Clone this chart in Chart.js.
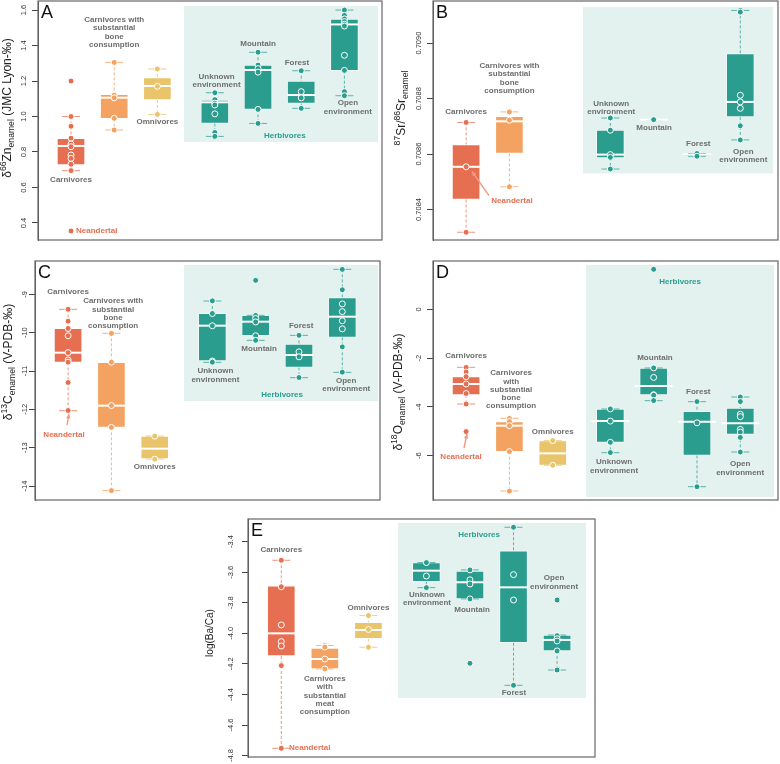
<!DOCTYPE html>
<html>
<head>
<meta charset="utf-8">
<script src="https://cdn.jsdelivr.net/npm/chart.js@4.4.1/dist/chart.umd.min.js"></script>
<style>
  body { margin: 0; background: #fff; width: 780px; height: 764px; position: relative; overflow: hidden; }
  canvas { position: absolute; }
</style>
</head>
<body>
<canvas id="cA" width="390" height="250" style="left:0;top:0"></canvas>
<canvas id="cB" width="390" height="250" style="left:390px;top:0"></canvas>
<canvas id="cC" width="390" height="252" style="left:0;top:250px"></canvas>
<canvas id="cD" width="390" height="252" style="left:390px;top:250px"></canvas>
<canvas id="cE" width="410" height="274" style="left:190px;top:490px"></canvas>
<script>
// groups, same order in every panel
const groups = ['Carnivores', 'Carnivores with substantial bone consumption', 'Omnivores',
  'Unknown environment', 'Mountain', 'Forest', 'Open environment'];
const groupPos = [1, 2, 3, 4.33, 5.33, 6.33, 7.33];
const groupColors = ['#e76f51', '#f4a261', '#e9c46a', '#2a9d8f', '#2a9d8f', '#2a9d8f', '#2a9d8f'];
const whiskerColors = ['rgba(231,111,81,0.75)', 'rgba(244,162,97,0.8)', 'rgba(233,196,106,0.8)',
  'rgba(42,157,143,0.75)', 'rgba(42,157,143,0.75)', 'rgba(42,157,143,0.75)', 'rgba(42,157,143,0.75)'];

// A: d66Zn
const znQ1  = [0.727, 0.988, 1.093, 0.961, 1.04, 1.074, 1.258];
const znMed = [0.834, 1.106, 1.172, 1.08, 1.262, 1.121, 1.519];
const znQ3  = [0.877, 1.125, 1.219, 1.093, 1.29, 1.2, 1.549];
const znLo  = [0.695, 0.924, 1.012, 0.888, 0.961, 1.046, 1.117];
const znHi  = [1.0, 1.305, 1.268, 1.134, 1.362, 1.258, 1.6];
const znPts = [
  [1.2, 1.0, 0.945, 0.878, 0.845, 0.83, 0.783, 0.764, 0.731, 0.695, 0.355],
  [1.305, 1.12, 1.105, 0.99, 0.924],
  [1.268, 1.17, 1.012],
  [1.134, 1.095, 1.075, 1.065, 1.015, 0.91, 0.888],
  [1.362, 1.29, 1.27, 1.25, 1.04, 0.961],
  [1.258, 1.14, 1.105, 1.046],
  [1.6, 1.57, 1.55, 1.535, 1.52, 1.51, 1.345, 1.26, 1.14, 1.117]
];
const znTicks = [0.4, 0.6, 0.8, 1.0, 1.2, 1.4, 1.6];

// B: 87Sr/86Sr (no omnivores)
const srQ1  = [0.708436, 0.708602, null, 0.708586, 0.708724, 0.708592, 0.708734];
const srMed = [0.708554, 0.708718, null, 0.708598, 0.708724, 0.708598, 0.708788];
const srQ3  = [0.708634, 0.708736, null, 0.708686, 0.708724, 0.708602, 0.708962];
const srLo  = [0.708318, 0.708482, null, 0.708546, 0.708724, 0.708592, 0.708651];
const srHi  = [0.708714, 0.708752, null, 0.70873, 0.708724, 0.708602, 0.709118];
const srPts = [
  [0.708714, 0.708554, 0.708318],
  [0.708752, 0.708722, 0.708482],
  [],
  [0.70873, 0.708686, 0.708598, 0.708588, 0.708546],
  [0.708724],
  [0.708602, 0.708592],
  [0.709118, 0.709112, 0.708812, 0.708788, 0.708765, 0.708702, 0.708651]
];
const srTicks = [0.7084, 0.7086, 0.7088, 0.7090];

// C: d13C
const cQ1  = [-10.774, -12.47, -13.296, -10.739, -10.078, -10.904, -10.122];
const cMed = [-10.522, -11.904, -13.026, -9.817, -9.713, -10.583, -9.583];
const cQ3  = [-9.887, -10.774, -12.696, -9.496, -9.548, -10.296, -9.087];
const cLo  = [-12.035, -14.12, -13.296, -10.774, -10.2, -11.174, -11.035];
const cHi  = [-9.391, -10.017, -12.696, -9.174, -9.548, -10.07, -8.348];
const cPts = [
  [-9.39, -9.70, -9.89, -10.08, -10.52, -10.71, -10.77, -11.30, -12.03],
  [-10.02, -10.77, -11.90, -12.47, -14.12],
  [-12.70, -13.30],
  [-9.17, -9.50, -9.82, -10.74, -10.77],
  [-8.635, -9.55, -9.63, -9.72, -10.08, -10.2],
  [-10.07, -10.50, -10.63, -11.17],
  [-8.35, -8.88, -9.25, -9.45, -9.69, -9.90, -10.37, -11.03]
];
const cTicks = [-14, -13, -12, -11, -10, -9];

// D: d18O
const oQ1  = [-3.51, -5.833, -6.393, -5.451, -3.511, -5.984, -5.123];
const oMed = [-3.06, -4.768, -5.902, -4.577, -3.142, -4.604, -4.672];
const oQ3  = [-2.76, -4.604, -5.383, -4.085, -2.404, -4.18, -4.044];
const oLo  = [-3.88, -7.445, -6.393, -5.874, -3.743, -7.268, -5.847];
const oHi  = [-2.377, -4.467, -5.383, -4.085, -2.404, -3.784, -3.593];
const oPts = [
  [-2.38, -2.57, -2.76, -3.06, -3.45, -3.88, -5.01],
  [-4.47, -4.60, -4.77, -5.83, -7.45],
  [-5.38, -6.39],
  [-4.08, -4.58, -5.45, -5.87],
  [1.64, -2.40, -2.79, -3.50, -3.52, -3.74],
  [-3.78, -4.65, -7.27],
  [-3.59, -3.78, -4.30, -4.40, -4.92, -5.03, -5.25, -5.85]
];
const oTicks = [-6, -4, -2, 0];

// E: log(Ba/Ca)
const baQ1  = [-4.148, -4.233, -4.035, -3.662, -3.775, -4.061, -4.115];
const baMed = [-4.0, -4.168, -3.978, -3.59, -3.666, -3.699, -4.043];
const baQ3  = [-3.690, -4.096, -3.928, -3.537, -3.592, -3.461, -4.011];
const baLo  = [-4.752, -4.233, -4.091, -3.701, -3.775, -4.34, -4.24];
const baHi  = [-3.522, -4.08, -3.884, -3.537, -3.585, -3.306, -4.011];
const baPts = [
  [-3.522, -3.695, -3.945, -4.054, -4.083, -4.211, -4.752],
  [-4.08, -4.09, -4.168, -4.233],
  [-3.884, -3.975, -4.091],
  [-3.537, -3.625, -3.701],
  [-3.585, -3.65, -3.677, -3.775, -4.196],
  [-3.306, -3.616, -3.782, -4.34],
  [-3.782, -4.015, -4.035, -4.05, -4.115, -4.24]
];
const baTicks = [-4.8, -4.6, -4.4, -4.2, -4.0, -3.8, -3.6, -3.4];

// annotation text, placed in data units
const BONE = ['Carnivores with', 'substantial', 'bone', 'consumption'];
const labelsA = [
  { t: ['Carnivores'], x: 1, y: 0.642 },
  { t: BONE, x: 2, y: 1.544 },
  { t: ['Omnivores'], x: 3, y: 0.969 },
  { t: ['Unknown', 'environment'], x: 4.37, y: 1.223 },
  { t: ['Mountain'], x: 5.33, y: 1.408 },
  { t: ['Forest'], x: 6.23, y: 1.301 },
  { t: ['Open', 'environment'], x: 7.41, y: 1.076 },
  { t: ['Herbivores'], x: 5.95, y: 0.89, c: 'h' },
  { t: ['Neandertal'], x: 1.116, y: 0.355, c: 'n', a: 'left' }
];
const labelsB = [
  { t: ['Carnivores'], x: 1, y: 0.708753 },
  { t: BONE, x: 2, y: 0.708918 },
  { t: ['Neandertal'], x: 2.06, y: 0.708432, c: 'n' },
  { t: ['Unknown', 'environment'], x: 4.35, y: 0.708782 },
  { t: ['Mountain'], x: 5.34, y: 0.708695 },
  { t: ['Forest'], x: 6.36, y: 0.708638 },
  { t: ['Open', 'environment'], x: 7.4, y: 0.708609 }
];
const labelsC = [
  { t: ['Carnivores'], x: 1, y: -8.939 },
  { t: BONE, x: 2.04, y: -9.174 },
  { t: ['Neandertal'], x: 0.906, y: -12.67, c: 'n' },
  { t: ['Omnivores'], x: 3, y: -13.504 },
  { t: ['Unknown', 'environment'], x: 4.4, y: -11.0 },
  { t: ['Mountain'], x: 5.41, y: -10.426 },
  { t: ['Forest'], x: 6.38, y: -9.826 },
  { t: ['Open', 'environment'], x: 7.42, y: -11.26 },
  { t: ['Herbivores'], x: 5.94, y: -11.626, c: 'h' }
];
const labelsD = [
  { t: ['Carnivores'], x: 1, y: -1.913 },
  { t: ['Carnivores', 'with', 'substantial', 'bone', 'consumption'], x: 2.04, y: -2.609 },
  { t: ['Omnivores'], x: 3, y: -5.027 },
  { t: ['Neandertal'], x: 0.883, y: -6.052, c: 'n' },
  { t: ['Herbivores'], x: 5.94, y: 1.12, c: 'h' },
  { t: ['Mountain'], x: 5.36, y: -1.995 },
  { t: ['Forest'], x: 6.36, y: -3.388 },
  { t: ['Unknown', 'environment'], x: 4.416, y: -6.257 },
  { t: ['Open', 'environment'], x: 7.326, y: -6.339 }
];
const labelsE = [
  { t: ['Carnivores'], x: 1, y: -3.4545 },
  { t: ['Carnivores', 'with', 'substantial', 'meat', 'consumption'], x: 2, y: -4.2986 },
  { t: ['Omnivores'], x: 3, y: -3.834 },
  { t: ['Herbivores'], x: 5.54, y: -3.356, c: 'h' },
  { t: ['Unknown', 'environment'], x: 4.344, y: -3.749 },
  { t: ['Mountain'], x: 5.377, y: -3.847 },
  { t: ['Open', 'environment'], x: 7.26, y: -3.638 },
  { t: ['Forest'], x: 6.34, y: -4.39 },
  { t: ['Neandertal'], x: 1.177, y: -4.75, c: 'n', a: 'left' }
];

const LABEL_COLORS = { g: '#6e6e6e', h: '#2a9d8f', n: '#e76f51' };
const FONT = '"Liberation Sans", Arial, sans-serif';

function boxDatasets(p) {
  const used = groupPos.map((_, i) => i).filter(i => p.q1[i] !== null);
  const ptData = [], ptColors = [];
  used.forEach(i => p.pts[i].forEach(v => {
    ptData.push({ x: groupPos[i], y: v });
    ptColors.push(groupColors[i]);
  }));
  const capData = [], capColors = [];
  used.forEach(i => {
    capData.push({ x: groupPos[i], y: p.hi[i] }, { x: groupPos[i], y: p.lo[i] });
    capColors.push(whiskerColors[i], whiskerColors[i]);
  });
  const ds = [
    { type: 'scatter', order: 0, data: ptData, pointRadius: 3, pointBackgroundColor: ptColors,
      pointBorderColor: '#ffffff', pointBorderWidth: 1 },
    { type: 'scatter', order: 1, data: used.map(i => ({ x: groupPos[i], y: p.med[i] })),
      pointStyle: 'line', pointRadius: used.map(i => (i > 2 ? p.medHerb : 14)),
      pointBorderColor: '#ffffff', pointBorderWidth: 2 },
    { type: 'scatter', order: 2, data: capData, pointStyle: 'line', pointRadius: 9,
      pointBorderColor: capColors, pointBorderWidth: 1 },
    { type: 'bar', order: 3, data: used.map(i => ({ x: groupPos[i], y: [p.q1[i], p.q3[i]] })),
      backgroundColor: used.map(i => groupColors[i]), borderColor: 'rgba(255,255,255,0.45)',
      borderWidth: 1, borderSkipped: false, barThickness: 28, grouped: false }
  ];
  used.forEach(i => ds.push({
    type: 'line', order: 4, borderColor: whiskerColors[i], borderWidth: 1, borderDash: [3, 2],
    pointRadius: 0, spanGaps: false, fill: false,
    data: [{ x: groupPos[i], y: p.hi[i] }, { x: groupPos[i], y: p.q3[i] }, { x: groupPos[i], y: null },
           { x: groupPos[i], y: p.q1[i] }, { x: groupPos[i], y: p.lo[i] }]
  }));
  return ds;
}

function drawTitle(ctx, parts, cx, cy, size) {
  ctx.save();
  ctx.translate(cx, cy);
  ctx.rotate(-Math.PI / 2);
  ctx.fillStyle = '#222';
  ctx.textBaseline = 'middle';
  ctx.textAlign = 'left';
  const fontOf = k => (k === 0 ? size : size * 0.72) + 'px ' + FONT;
  let total = 0;
  parts.forEach(([t, k]) => { ctx.font = fontOf(k); total += ctx.measureText(t).width; });
  let x = -total / 2;
  parts.forEach(([t, k]) => {
    ctx.font = fontOf(k);
    const dy = k === 1 ? -size * 0.38 : (k === -1 ? size * 0.32 : 0);
    ctx.fillText(t, x, dy);
    x += ctx.measureText(t).width;
  });
  ctx.restore();
}

function decoPlugin(p) {
  return {
    id: 'deco',
    beforeDatasetsDraw(chart) {
      const { ctx, scales: { x, y } } = chart;
      const r = p.region;
      const x0 = x.getPixelForValue(r[0]), x1 = x.getPixelForValue(r[1]);
      const y0 = y.getPixelForValue(r[2]), y1 = y.getPixelForValue(r[3]);
      ctx.save();
      ctx.fillStyle = '#e3f2ef';
      ctx.fillRect(x0, y0, x1 - x0, y1 - y0);
      ctx.restore();
    },
    afterDatasetsDraw(chart) {
      const { ctx, scales: { x, y } } = chart;
      ctx.save();
      ctx.font = 'bold 8px ' + FONT;
      ctx.textBaseline = 'middle';
      p.labels.forEach(l => {
        ctx.fillStyle = LABEL_COLORS[l.c || 'g'];
        ctx.textAlign = l.a || 'center';
        const px = x.getPixelForValue(l.x), py = y.getPixelForValue(l.y);
        l.t.forEach((line, k) => ctx.fillText(line, px, py + k * 8.3));
      });
      (p.arrows || []).forEach(a => {
        const x0 = x.getPixelForValue(a[0]), y0 = y.getPixelForValue(a[1]);
        const x1 = x.getPixelForValue(a[2]), y1 = y.getPixelForValue(a[3]);
        const ang = Math.atan2(y1 - y0, x1 - x0);
        ctx.strokeStyle = '#f19a84';
        ctx.fillStyle = '#f19a84';
        ctx.lineWidth = 1.4;
        ctx.beginPath(); ctx.moveTo(x0, y0); ctx.lineTo(x1, y1); ctx.stroke();
        ctx.beginPath();
        ctx.moveTo(x1, y1);
        ctx.lineTo(x1 - 5 * Math.cos(ang - 0.45), y1 - 5 * Math.sin(ang - 0.45));
        ctx.lineTo(x1 - 5 * Math.cos(ang + 0.45), y1 - 5 * Math.sin(ang + 0.45));
        ctx.closePath(); ctx.fill();
      });
      ctx.restore();
    },
    afterDraw(chart) {
      const { ctx, chartArea: ca } = chart;
      ctx.save();
      ctx.strokeStyle = '#666';
      ctx.lineWidth = 1.2;
      ctx.strokeRect(ca.left, ca.top, ca.right - ca.left, ca.bottom - ca.top);
      ctx.fillStyle = '#111';
      ctx.font = '18px ' + FONT;
      ctx.textAlign = 'left';
      ctx.textBaseline = 'alphabetic';
      ctx.fillText(p.letter, ca.left + 3, ca.top + 17);
      ctx.restore();
      drawTitle(ctx, p.title, p.titleX, p.titleY, p.titleSize);
    }
  };
}

function makeChart(canvasId, p) {
  new Chart(document.getElementById(canvasId), {
    type: 'scatter',
    data: { datasets: boxDatasets(p) },
    plugins: [decoPlugin(p)],
    options: {
      responsive: false,
      animation: false,
      events: [],
      layout: { padding: p.pad, autoPadding: false },
      plugins: { legend: { display: false }, tooltip: { enabled: false } },
      scales: {
        x: { type: 'linear', min: 0.236, max: 8.2, offset: false, display: false, grid: { offset: false } },
        y: {
          type: 'linear', min: p.min, max: p.max,
          afterBuildTicks: s => { s.ticks = p.ticks.map(v => ({ value: v })); },
          afterFit: s => { s.width = p.axisW; s.paddingTop = 0; s.paddingBottom = 0; },
          ticks: {
            autoSkip: false, minRotation: 90, maxRotation: 90, crossAlign: 'center',
            padding: p.tickPad, color: '#333', font: { size: 7.5, family: FONT },
            callback: v => Number(v).toFixed(p.dec)
          },
          grid: { drawOnChartArea: false, drawTicks: true, tickLength: 6, color: '#444' },
          border: { display: true, color: '#555' }
        }
      }
    }
  });
}

makeChart('cA', {
  q1: znQ1, med: znMed, q3: znQ3, lo: znLo, hi: znHi, pts: znPts, ticks: znTicks, dec: 1,
  min: 0.304, max: 1.651, medHerb: 14, letter: 'A', labels: labelsA,
  region: [3.616, 8.108, 1.623, 0.856],
  pad: { top: 1, right: 8, bottom: 10, left: 0 }, axisW: 38, tickPad: 2.8,
  title: [['δ', 0], ['66', 1], ['Zn', 0], ['enamel', -1], [' (JMC Lyon-‰)', 0]],
  titleX: 8, titleY: 108, titleSize: 12
});
makeChart('cB', {
  q1: srQ1, med: srMed, q3: srQ3, lo: srLo, hi: srHi, pts: srPts, ticks: srTicks, dec: 4,
  min: 0.70829, max: 0.709152, medHerb: 14, letter: 'B', labels: labelsB,
  region: [3.70, 8.088, 0.709131, 0.70853],
  arrows: [[1.53, 0.70845, 1.137, 0.708537]],
  pad: { top: 1, right: 2, bottom: 10, left: 0 }, axisW: 43, tickPad: -3.5,
  title: [['87', 1], ['Sr/', 0], ['86', 1], ['Sr', 0], ['enamel', -1]],
  titleX: 12, titleY: 108, titleSize: 12
});
makeChart('cC', {
  q1: cQ1, med: cMed, q3: cQ3, lo: cLo, hi: cHi, pts: cPts, ticks: cTicks, dec: 0,
  min: -14.365, max: -8.13, medHerb: 14, letter: 'C', labels: labelsC,
  region: [3.677, 8.157, -8.235, -11.783],
  arrows: [[0.975, -12.409, 1.02, -12.122]],
  pad: { top: 11, right: 10, bottom: 2, left: 0 }, axisW: 35, tickPad: -1.5,
  title: [['δ', 0], ['13', 1], ['C', 0], ['enamel', -1], [' (V-PDB-‰)', 0]],
  titleX: 9, titleY: 112, titleSize: 12
});
makeChart('cD', {
  q1: oQ1, med: oMed, q3: oQ3, lo: oLo, hi: oHi, pts: oPts, ticks: oTicks, dec: 0,
  min: -7.814, max: 1.981, medHerb: 19, letter: 'D', labels: labelsD,
  region: [3.77, 8.11, 1.817, -7.69],
  arrows: [[0.952, -5.683, 1.02, -5.109]],
  pad: { top: 11, right: 2, bottom: 2, left: 0 }, axisW: 43, tickPad: 4.6,
  title: [['δ', 0], ['18', 1], ['O', 0], ['enamel', -1], [' (V-PDB-‰)', 0]],
  titleX: 9, titleY: 142, titleSize: 12
});
makeChart('cE', {
  q1: baQ1, med: baMed, q3: baQ3, lo: baLo, hi: baHi, pts: baPts, ticks: baTicks, dec: 1,
  min: -4.809, max: -3.252, medHerb: 14, letter: 'E', labels: labelsE,
  region: [3.679, 7.994, -3.278, -4.423],
  pad: { top: 29, right: 5, bottom: 7, left: 0 }, axisW: 58, tickPad: 4.5,
  title: [['log(Ba/Ca)', 0]],
  titleX: 20, titleY: 143, titleSize: 10
});
</script>
</body>
</html>
